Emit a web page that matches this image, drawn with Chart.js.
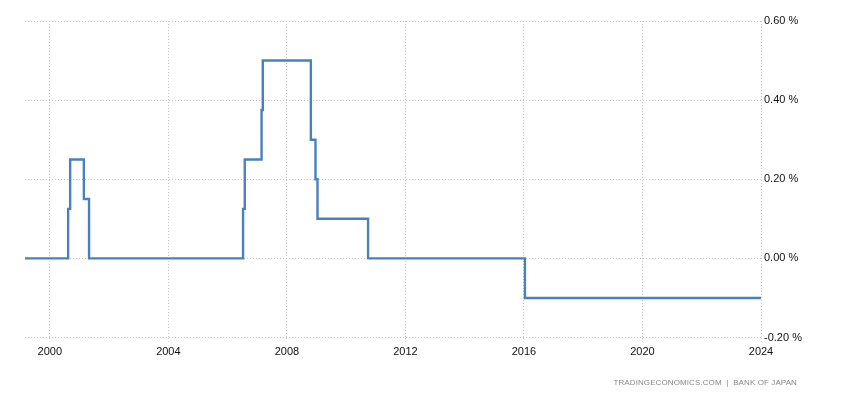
<!DOCTYPE html>
<html>
<head>
<meta charset="utf-8">
<script src="https://cdn.jsdelivr.net/npm/chart.js@4.4.1/dist/chart.umd.min.js"></script>
<style>
  html, body { margin: 0; padding: 0; background: #fff; }
  #wrap { position: relative; width: 850px; height: 400px; }
  #source {
    position: absolute; right: 53px; top: 378px;
    font: 8px 'Liberation Sans', Arial, sans-serif;
    color: #888; white-space: pre; letter-spacing: 0.1px;
  }
</style>
</head>
<body>
<div id="wrap">
  <canvas id="chart" width="850" height="400"></canvas>
  <div id="source">TRADINGECONOMICS.COM  |  BANK OF JAPAN</div>
</div>
<script>
// BoJ policy rate, each entry = value from that date on
const changeDates = ['1999-03-01', '2000-08-14', '2000-09-08', '2001-02-24', '2001-04-29',
                     '2006-07-10', '2006-07-31', '2007-02-23', '2007-03-10', '2008-10-23',
                     '2008-12-19', '2009-01-13', '2010-09-28', '2016-01-13', '2024-01-01'];
const rates = [0, 0.125, 0.25, 0.15, 0,
               0.125, 0.25, 0.375, 0.5, 0.3,
               0.2, 0.1, 0, -0.1, -0.1];
const yearTicks = [2000, 2004, 2008, 2012, 2016, 2020, 2024];
const rateTicks = [-0.2, 0, 0.2, 0.4, 0.6];

function toYear(s) {
    let [y, m, d] = s.split('-').map(Number);
    let start = Date.UTC(y, 0, 1);
    let end = Date.UTC(y + 1, 0, 1);
    return y + (Date.UTC(y, m - 1, d) - start) / (end - start);
}

let points = changeDates.map((d, i) => ({x: toYear(d), y: rates[i]}));
let gridColor = '#c4c4c4';
let labelFont = { family: "'Liberation Sans', Arial, sans-serif", size: 11 };

new Chart(document.getElementById('chart'), {
    type: 'line',
    data: {
        datasets: [{
            label: 'Interest Rate',
            data: points,
            stepped: true,
            borderColor: '#4a80bc',
            borderWidth: 2.4,
            pointRadius: 0,
            fill: false,
        }],
    },
    options: {
        responsive: false,
        animation: false,
        layout: { padding: { left: 25, top: 21, right: 0, bottom: 0 } },
        plugins: {
            legend: { display: false },
            tooltip: { enabled: false },
        },
        scales: {
            x: {
                type: 'linear',
                min: points[0].x,
                max: 2024,
                afterBuildTicks: axis => { axis.ticks = yearTicks.map(v => ({value: v})); },
                afterFit: axis => { axis.height = 62.5; },
                border: { display: false, dash: [1, 2] },
                grid: {
                    color: gridColor,
                    tickBorderDash: [1, 2],
                    tickColor: gridColor,
                    tickLength: 4,
                },
                ticks: {
                    color: '#111',
                    font: labelFont,
                    padding: 4,
                    maxRotation: 0,
                    callback: v => String(v),
                },
            },
            y: {
                position: 'right',
                min: -0.2,
                max: 0.6,
                afterBuildTicks: axis => { axis.ticks = rateTicks.map(v => ({value: v})); },
                afterFit: axis => { axis.width = 89; },
                border: { display: false, dash: [1, 2] },
                grid: {
                    color: gridColor,
                    drawTicks: false,
                },
                ticks: {
                    color: '#111',
                    font: labelFont,
                    padding: 3,
                    callback: v => v.toFixed(2) + ' %',
                },
            },
        },
    },
});
</script>
</body>
</html>
